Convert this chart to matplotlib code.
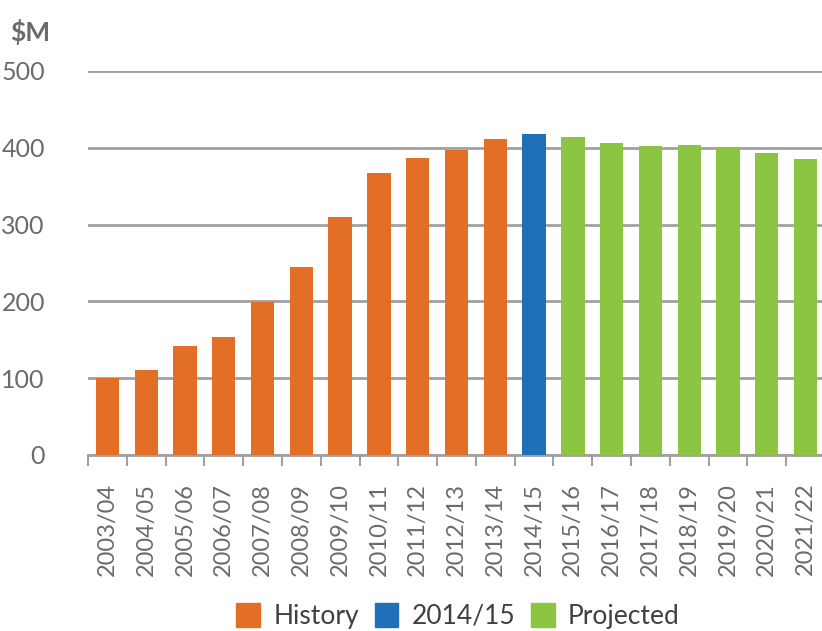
import numpy as np
import matplotlib.pyplot as plt
from matplotlib.patches import Patch

plt.rcParams['font.family'] = ['Lato', 'DejaVu Sans']

years = ["2003/04", "2004/05", "2005/06", "2006/07", "2007/08", "2008/09",
         "2009/10", "2010/11", "2011/12", "2012/13", "2013/14", "2014/15",
         "2015/16", "2016/17", "2017/18", "2018/19", "2019/20", "2020/21",
         "2021/22"]
values = [100, 111, 142, 154, 199, 245, 310, 367, 387, 397, 411, 418,
          414, 406, 402, 404, 401, 393, 385]
groups = ["History"] * 11 + ["2014/15"] + ["Projected"] * 7
colors = {"History": "#E36E26", "2014/15": "#1F70B8", "Projected": "#8BC541"}

fig = plt.figure(figsize=(8.22, 6.31), dpi=100)
ax = fig.add_axes([88/822, 1-455/631, 737/822, (455-71)/631])

x = np.arange(len(years))
ax.bar(x, values, width=0.6, color=[colors[g] for g in groups], zorder=3)

ax.set_xlim(-0.5, len(years) - 0.5)
ax.set_ylim(0, 500)
ax.set_yticks([0, 100, 200, 300, 400, 500])
ax.yaxis.grid(True, color="#a0a0a0", linewidth=2, zorder=0)
ax.tick_params(axis='y', length=0, pad=31, labelsize=18, labelcolor="#6b6b6b")

ax.set_xticks(x)
ax.set_xticklabels(years, rotation=90, fontsize=17, color="#6b6b6b")
ax.set_xticks(np.arange(len(years) + 1) - 0.5, minor=True)
ax.tick_params(axis='x', which='major', length=0, pad=20)
ax.tick_params(axis='x', which='minor', length=8, width=1.5, color="#a0a0a0")

for s in ["top", "right", "left"]:
    ax.spines[s].set_visible(False)
ax.spines["bottom"].set_color("#a0a0a0")
ax.spines["bottom"].set_linewidth(2)

fig.text(10/822, 1-32/631, "$M", fontsize=19, fontweight="bold",
         color="#6b6b6b", va="center", ha="left")

handles = [Patch(color=colors[k]) for k in ["History", "2014/15", "Projected"]]
fig.legend(handles, ["History", "2014/15", "Projected"], loc="center",
           bbox_to_anchor=(458/822, 1-616/631), ncol=3, frameon=False,
           fontsize=19, handlelength=0.9, handleheight=1.0, columnspacing=0.6,
           handletextpad=0.5, labelcolor="#404040", borderpad=0.2)

fig.savefig("out.png", dpi=100)
